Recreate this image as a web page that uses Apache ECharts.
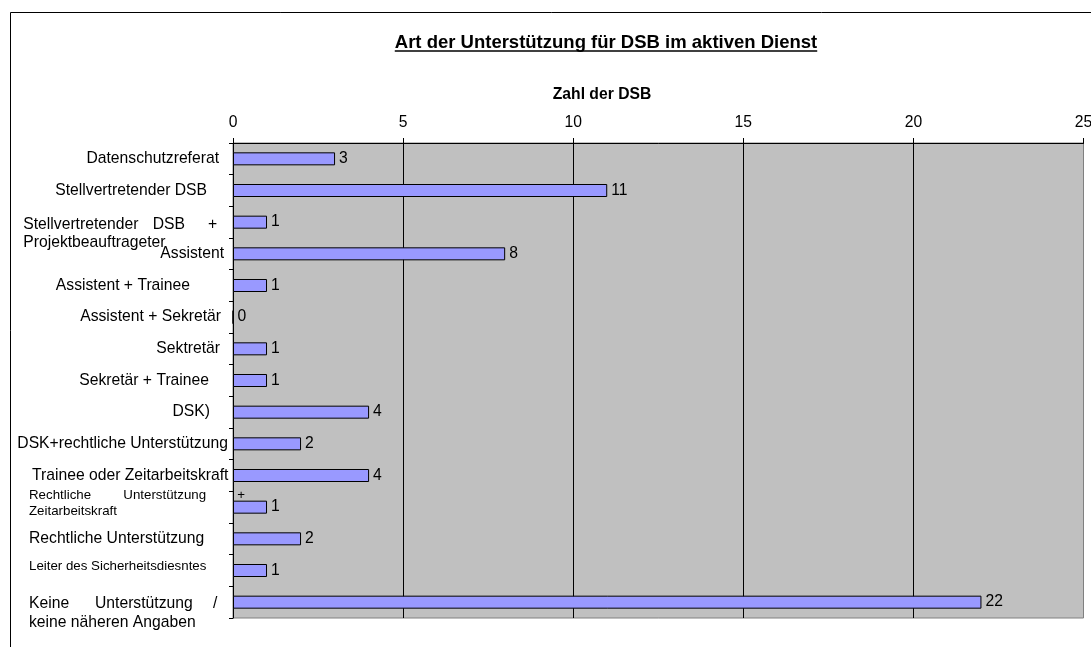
<!DOCTYPE html>
<html>
<head>
<meta charset="utf-8">
<script src="https://cdn.jsdelivr.net/npm/echarts@6/dist/echarts.min.js"></script>
<style>
  html, body { margin: 0; padding: 0; background: #fff; }
  #chart { width: 1091px; height: 647px; }
</style>
</head>
<body>
<div id="chart"></div>
<script>
// ---- data ----
const chartTitle = 'Art der Unterstützung für DSB im aktiven Dienst';
const axisTitle = 'Zahl der DSB';
const categories = [
  'Datenschutzreferat',
  'Stellvertretender DSB',
  'Stellvertretender DSB + Projektbeauftrageter',
  'Assistent',
  'Assistent + Trainee',
  'Assistent + Sekretär',
  'Sektretär',
  'Sekretär + Trainee',
  'DSK)',
  'DSK+rechtliche Unterstützung',
  'Trainee oder Zeitarbeitskraft',
  'Rechtliche Unterstützung + Zeitarbeitskraft',
  'Rechtliche Unterstützung',
  'Leiter des Sicherheitsdiesntes',
  'Keine Unterstützung / keine näheren Angaben'
];
const counts = [3, 11, 1, 8, 1, 0, 1, 1, 4, 2, 4, 1, 2, 1, 22];
const axisMin = 0;
const axisMax = 25;
const axisStep = 5;

// ---- styling ----
const FONT = "'Liberation Sans', Arial, sans-serif";
const BASE = 15.7;
const SMALL = 13.3;
const GRID_LEFT = 233;
const LABEL_X0 = 17;           // left edge of the category label column

// Category label layout: either a right edge for a single right-aligned line,
// or lines made of word groups [wordCount, startX], with optional spacer lines.
const labelLayout = [
  { right: 219 },
  { right: 207 },
  { lines: [[[1, 23.3], [1, 152.7], [1, 208]], [[1, 23.3]]], lh: 18, padTop: 24 },
  { right: 224 },
  { right: 190 },
  { right: 221 },
  { right: 220 },
  { right: 209 },
  { right: 210 },
  { lines: [[[2, 17.3]]], lh: 18 },
  { lines: [[[3, 32]]], lh: 18 },
  { lines: [[[1, 29], [1, 123.3], [1, 237.3]], [[1, 29]]], lh: 16, size: SMALL, padBottom: 8 },
  { lines: [[[2, 29]]], lh: 18 },
  { lines: [[[3, 29]]], lh: 16, size: SMALL, padBottom: 9 },
  { lines: [[[1, 29], [1, 95], [1, 213]], [[3, 29]]], lh: 19, padTop: 22 }
];

const rich = {};
const labelStrings = categories.map(function (name, i) {
  const lay = labelLayout[i];
  const size = lay.size || BASE;
  if (lay.right != null) {
    const key = 'r' + i;
    rich[key] = { width: lay.right - LABEL_X0, align: 'right', fontSize: size, fontFamily: FONT, color: '#000' };
    return '{' + key + '|' + name + '}';
  }
  const words = name.split(' ');
  let w = 0;
  const out = [];
  if (lay.padTop) {
    rich['t' + i] = { fontSize: 1, lineHeight: lay.padTop, height: lay.padTop };
    out.push('{t' + i + '|\u00a0}');
  }
  lay.lines.forEach(function (line, li) {
    let s = '';
    let x = LABEL_X0;
    line.forEach(function (grp, gi) {
      const txt = words.slice(w, w + grp[0]).join(' ');
      w += grp[0];
      const start = grp[1];
      if (start > x + 0.1) {
        const sk = 's' + i + '_' + li + '_' + gi;
        rich[sk] = { width: start - x, align: 'left', fontSize: size, lineHeight: lay.lh, fontFamily: FONT };
        s += '{' + sk + '|\u00a0}';
        x = start;
      }
      const key = 'w' + i + '_' + li + '_' + gi;
      const next = line[gi + 1];
      const style = { align: 'left', fontSize: size, lineHeight: lay.lh, fontFamily: FONT, color: '#000' };
      if (next) {
        style.width = next[1] - start;
        x = next[1];
      }
      rich[key] = style;
      s += '{' + key + '|' + txt + '}';
    });
    out.push(s);
  });
  if (lay.padBottom) {
    rich['b' + i] = { fontSize: 1, lineHeight: lay.padBottom, height: lay.padBottom };
    out.push('{b' + i + '|\u00a0}');
  }
  return out.join('\n');
});

// underline width of the chart title
const measureCtx = document.createElement('canvas').getContext('2d');
measureCtx.font = 'bold 18.5px ' + FONT;
const titleWidth = measureCtx.measureText(chartTitle).width;
const TITLE_CX = 606;

const chart = echarts.init(document.getElementById('chart'), null, { renderer: 'canvas' });

chart.setOption({
  backgroundColor: '#fff',
  animation: false,
  title: [
    {
      text: chartTitle,
      left: TITLE_CX,
      top: 33,
      textAlign: 'center',
      padding: 0,
      textStyle: { fontFamily: FONT, fontSize: 18.5, fontWeight: 'bold', color: '#000' }
    },
    {
      text: axisTitle,
      left: 602,
      top: 87,
      textAlign: 'center',
      padding: 0,
      textStyle: { fontFamily: FONT, fontSize: BASE, fontWeight: 'bold', color: '#000' }
    }
  ],
  graphic: [
    {
      type: 'rect',
      silent: true,
      shape: { x: 10.5, y: 12.5, width: 3000, height: 3000 },
      style: { fill: 'none', stroke: '#000', lineWidth: 1 }
    },
    {
      type: 'line',
      silent: true,
      shape: { x1: TITLE_CX - titleWidth / 2, y1: 51, x2: TITLE_CX + titleWidth / 2, y2: 51 },
      style: { stroke: '#000', lineWidth: 1.6 }
    }
  ],
  grid: {
    left: GRID_LEFT,
    right: 7.5,
    top: 143,
    bottom: 29,
    outerBoundsMode: 'none',
    show: true,
    backgroundColor: '#C0C0C0',
    borderColor: '#808080',
    borderWidth: 1
  },
  xAxis: {
    type: 'value',
    position: 'top',
    min: axisMin,
    max: axisMax,
    interval: axisStep,
    axisLine: { show: true, lineStyle: { color: '#000', width: 1 } },
    axisTick: { show: true, inside: false, length: 5, lineStyle: { color: '#000' } },
    axisLabel: { color: '#000', fontSize: BASE, fontFamily: FONT, margin: 12 },
    splitLine: {
      show: true,
      lineStyle: { color: ['#000', '#000', '#000', '#000', '#000', '#808080'], width: 1 }
    }
  },
  yAxis: {
    type: 'category',
    inverse: true,
    data: categories,
    axisLine: { show: true, lineStyle: { color: '#000', width: 1 } },
    axisTick: { show: true, inside: false, length: 4, alignWithLabel: false, lineStyle: { color: '#000' } },
    axisLabel: {
      interval: 0,
      align: 'left',
      margin: GRID_LEFT - LABEL_X0,
      color: '#000',
      fontFamily: FONT,
      fontSize: BASE,
      formatter: function (value, idx) { return labelStrings[idx]; },
      rich: rich
    },
    splitLine: { show: false }
  },
  series: [
    {
      type: 'bar',
      data: counts,
      barWidth: 13,
      itemStyle: { color: '#9999FF', borderColor: '#000', borderWidth: 1 },
      label: {
        show: true,
        position: 'right',
        distance: 4,
        color: '#000',
        fontFamily: FONT,
        fontSize: BASE
      }
    }
  ]
});
</script>
</body>
</html>
